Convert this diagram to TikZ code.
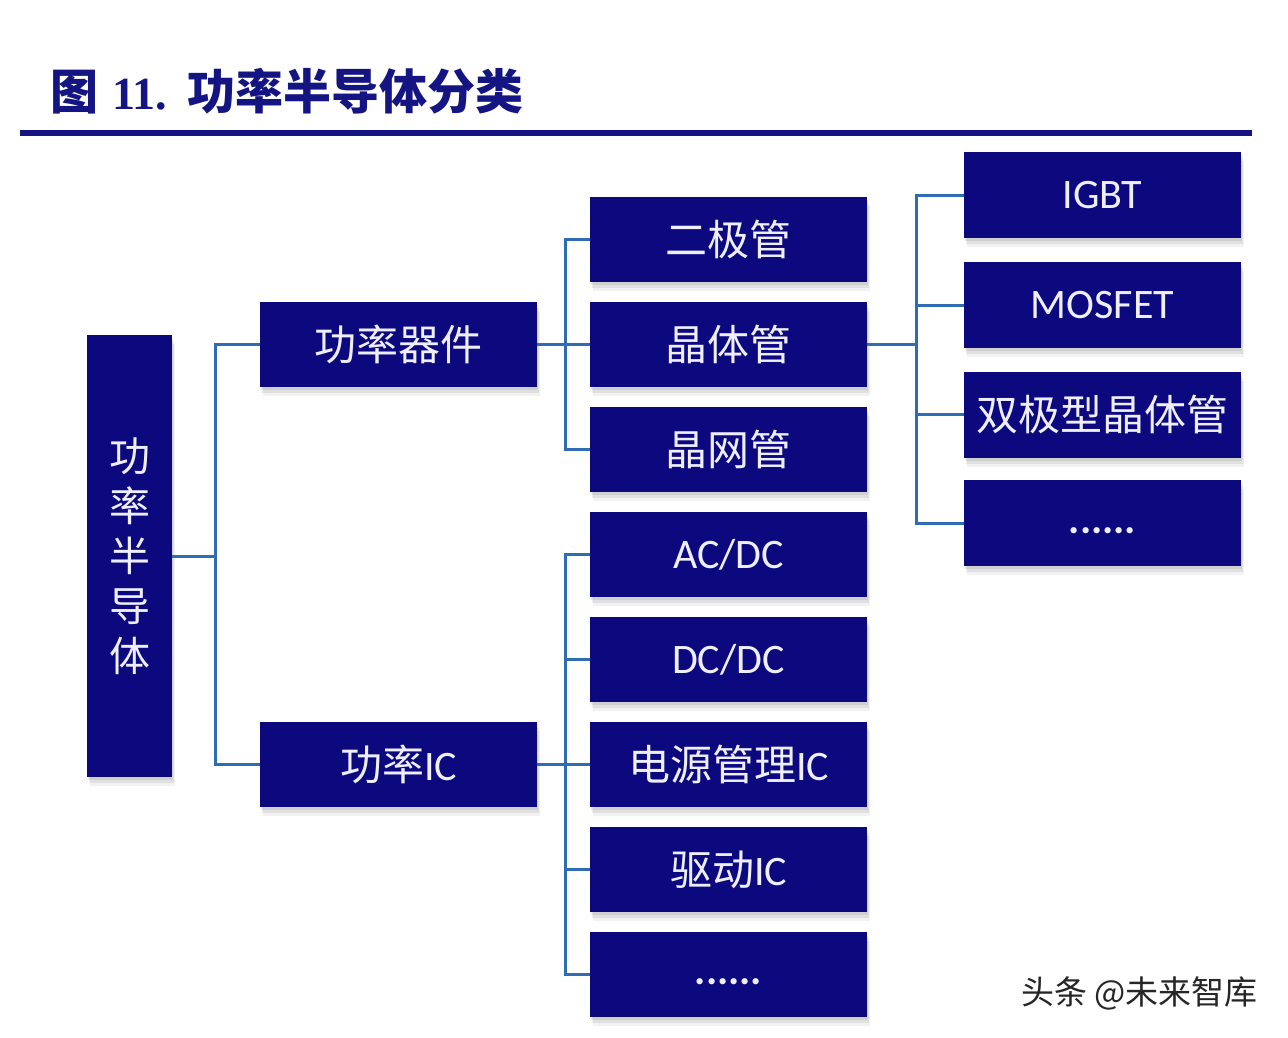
\documentclass[tikz,border=0pt]{standalone}
\usepackage{fontspec}
\setmainfont{Carlito}
\newfontfamily\cjk{Noto Sans CJK SC}
\newfontfamily\tnr{Liberation Serif}
\usetikzlibrary{shadows}
\definecolor{navy}{RGB}{12,8,126}
\definecolor{titlec}{RGB}{20,20,130}
\definecolor{boxtext}{RGB}{238,238,255}
\definecolor{linkc}{RGB}{46,108,180}
\tikzset{
  softshadow/.style={
    general shadow={fill=black, opacity=0.07, shadow xshift=1pt, shadow yshift=-3pt},
    general shadow={fill=black, opacity=0.07, shadow xshift=2pt, shadow yshift=-6pt},
    general shadow={fill=black, opacity=0.05, shadow xshift=3pt, shadow yshift=-9pt}},
  box/.style={fill=navy, text=boxtext, minimum width=277pt, minimum height=85pt,
    inner sep=0pt, font=\fontsize{42}{42}\selectfont, softshadow},
  link/.style={draw=linkc, line width=3pt}
}
\newcommand{\dotsfill}{\smash{\raisebox{-10pt}{\bfseries ......}}}
\begin{document}
\begin{tikzpicture}[x=1pt,y=-1pt]
\useasboundingbox[fill=white] (0,0) rectangle (1288,1038);
% title
\node[anchor=base west, inner sep=0pt, text=titlec] (title) at (50,110)
  {\fontsize{48}{48}\selectfont\cjk\bfseries 图\hspace{14pt}{\fontsize{46}{46}\selectfont\tnr\bfseries 11.}\hspace{20pt}功率半导体分类};
\draw[titlec, line width=6pt] (20,133) -- (1252,133);
% root
\node[box, minimum width=85pt, minimum height=442pt, align=center,
  font=\fontsize{41}{50}\selectfont\cjk] (root) at (129.5,556) {功\\率\\半\\导\\体};
% level 1
\node[box] (pw) at (398.5,344.5) {\cjk 功率器件};
\node[box] (ic) at (398.5,764.5) {{\cjk 功率}IC};
% level 2
\node[box] (m1) at (728.5,239.5) {\cjk 二极管};
\node[box] (m2) at (728.5,344.5) {\cjk 晶体管};
\node[box] (m3) at (728.5,449.5) {\cjk 晶网管};
\node[box] (m4) at (728.5,554.5) {AC/DC};
\node[box] (m5) at (728.5,659.5) {DC/DC};
\node[box] (m6) at (728.5,764.5) {{\cjk 电源管理}IC};
\node[box] (m7) at (728.5,869.5) {{\cjk 驱动}IC};
\node[box] (m8) at (728.5,974.5) {\dotsfill};
% level 3
\node[box, minimum height=86pt] (r1) at (1102.5,195) {IGBT};
\node[box, minimum height=86pt] (r2) at (1102.5,305) {MOSFET};
\node[box, minimum height=86pt] (r3) at (1102.5,414.5) {\cjk 双极型晶体管};
\node[box, minimum height=86pt] (r4) at (1102.5,523) {\dotsfill};
% connectors
\coordinate (j0) at (215,556);
\draw[link] (root.east) -- (j0);
\draw[link] (j0) |- (pw.west);
\draw[link] (j0) |- (ic.west);
\coordinate (j1) at (565,344.5);
\draw[link] (pw.east) -- (m2.west);
\draw[link] (j1) |- (m1.west);
\draw[link] (j1) |- (m3.west);
\coordinate (j2) at (916,344.5);
\draw[link] (m2.east) -- (j2);
\draw[link] (j2) |- (r1.west);
\draw[link] (j2) |- (r2.west);
\draw[link] (j2) |- (r3.west);
\draw[link] (j2) |- (r4.west);
\coordinate (j3) at (565,764.5);
\draw[link] (ic.east) -- (m6.west);
\draw[link] (j3) |- (m4.west);
\draw[link] (j3) |- (m5.west);
\draw[link] (j3) |- (m7.west);
\draw[link] (j3) |- (m8.west);
% watermark
\node[anchor=west, inner sep=0pt, text=black!85] (wm) at (1021,993)
  {\fontsize{33}{33}\selectfont\cjk 头条 @未来智库};
\end{tikzpicture}
\end{document}
